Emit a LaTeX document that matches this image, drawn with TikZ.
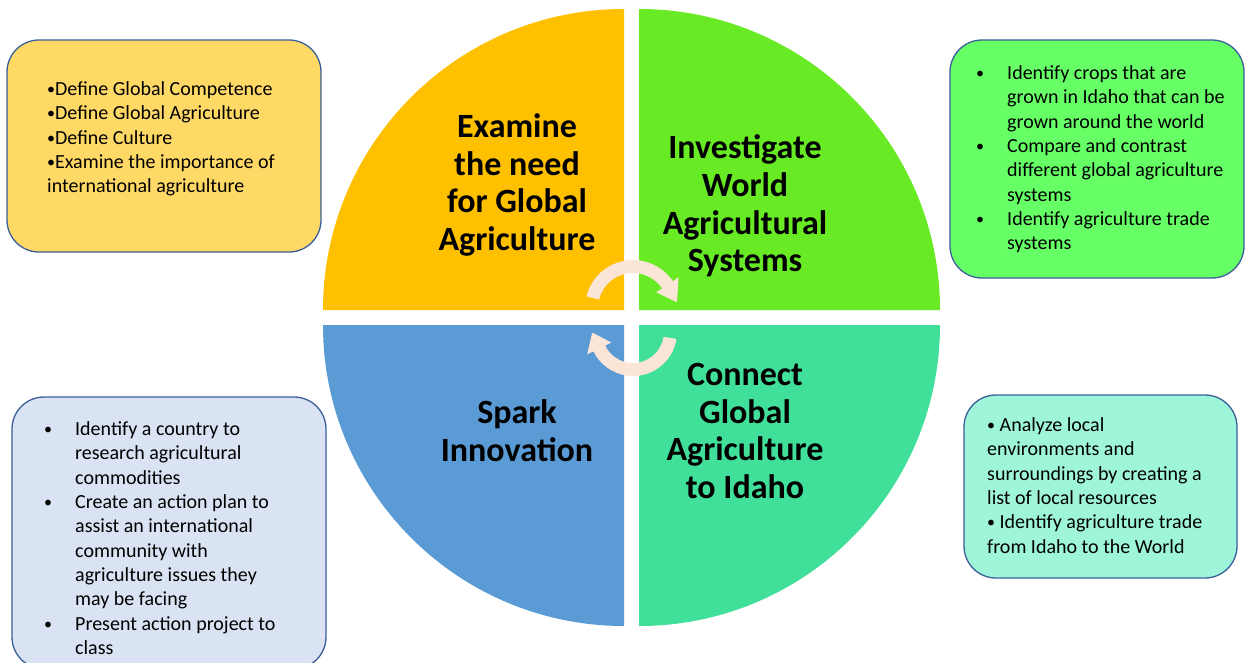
\documentclass[tikz,border=0pt]{standalone}
\usepackage{fontspec}
\setmainfont{Carlito}
\usetikzlibrary{calc}

\definecolor{quadYellow}{HTML}{FFC000}
\definecolor{quadGreen}{HTML}{68EB24}
\definecolor{quadTeal}{HTML}{41E09A}
\definecolor{quadBlue}{HTML}{5B9BD5}
\definecolor{boxYellow}{HTML}{FFD966}
\definecolor{boxGreen}{HTML}{66FF66}
\definecolor{boxBlue}{HTML}{DAE3F3}
\definecolor{boxAqua}{HTML}{9FF5D9}
\definecolor{boxLine}{HTML}{3A5F99}
\definecolor{cycleArrow}{HTML}{FBE5D6}

% small bullet, and the same bullet with a fixed hanging indent
\newcommand\smallbul{{\fontsize{16}{16}\selectfont\raisebox{1pt}{•}}}
\newcommand\itembul{\makebox[31pt][l]{\smallbul}}
\newcommand\itemgap{\hspace*{31pt}}

\begin{document}
\begin{tikzpicture}[x=1pt,y=-1pt,
  infobox/.style={draw=boxLine, line width=1.3pt, rounded corners=32pt,
    inner sep=0pt, rectangle},
  boxtext/.style={anchor=north west, inner sep=0pt, align=left,
    font=\fontsize{20}{24.3}\selectfont},
  title/.style={align=center, inner sep=0pt,
    font=\bfseries\fontsize{34}{37.7}\selectfont},
  arrowband/.style={fill=cycleArrow}]

\useasboundingbox (0,0) rectangle (1246,662);
\clip (0,0) rectangle (1246,662);
\fill[white] (0,0) rectangle (1246,662);

% four quarter discs
\fill[quadYellow] (624,310) -- (323,310) arc[start angle=180, end angle=270, radius=301] -- cycle;
\fill[quadGreen]  (639,310) -- (639,9)   arc[start angle=270, end angle=360, radius=301] -- cycle;
\fill[quadTeal]   (639,325) -- (940,325) arc[start angle=0,   end angle=90,  radius=301] -- cycle;
\fill[quadBlue]   (624,325) -- (624,626) arc[start angle=90,  end angle=180, radius=301] -- cycle;

% cycle arrows in the middle
\coordinate (cu) at (633,308);
\coordinate (cl) at (633,332);
\fill[arrowband] ($(cu)+(194:48)$) arc[start angle=194, end angle=326, radius=48]
  -- ($(cu)+(326:55)$) -- ($(cu)+(330:41.5)+(62:17)$) -- ($(cu)+(326:28)$)
  -- ($(cu)+(326:35)$) arc[start angle=326, end angle=194, radius=35] -- cycle;
\fill[arrowband] ($(cl)+(9:44)$) arc[start angle=9, end angle=154, radius=44]
  -- ($(cl)+(154:51)$) -- ($(cl)+(156:37.5)+(246:16)$) -- ($(cl)+(154:24)$)
  -- ($(cl)+(154:31)$) arc[start angle=154, end angle=9, radius=31] -- cycle;

% quadrant titles
\node[title] (examine) at (517,185) {Examine\\the need\\for Global\\Agriculture};
\node[title] (investigate) at (745,206) {Investigate\\World\\Agricultural\\Systems};
\node[title] (spark) at (517,431) {Spark\\Innovation};
\node[title] (connect) at (745,431) {Connect\\Global\\Agriculture\\to Idaho};

% side boxes
\node[infobox, fill=boxYellow, minimum width=314pt, minimum height=212pt] (boxExamine) at (164,146) {};
\node[infobox, fill=boxGreen, minimum width=294pt, minimum height=238pt] (boxInvestigate) at (1097,159) {};
\node[infobox, fill=boxBlue, minimum width=314pt, minimum height=272pt] (boxSpark) at (169,533) {};
\node[infobox, fill=boxAqua, minimum width=273pt, minimum height=183pt] (boxConnect) at (1100.5,486.5) {};

\node[boxtext] (txtExamine) at (47,81.5) {\smallbul Define Global Competence\\\smallbul Define Global Agriculture\\\smallbul Define Culture\\\smallbul Examine the importance of\\international agriculture};
\node[boxtext] (txtInvestigate) at (976,65.5) {\itembul Identify crops that are\\\itemgap grown in Idaho that can be\\\itemgap grown around the world\\\itembul Compare and contrast\\\itemgap different global agriculture\\\itemgap systems\\\itembul Identify agriculture trade\\\itemgap systems};
\node[boxtext] (txtSpark) at (44,421.5) {\itembul Identify a country to\\\itemgap research agricultural\\\itemgap commodities\\\itembul Create an action plan to\\\itemgap assist an international\\\itemgap community with\\\itemgap agriculture issues they\\\itemgap may be facing\\\itembul Present action project to\\\itemgap class};
\node[boxtext] (txtConnect) at (987,417.5) {\smallbul{} Analyze local\\environments and\\surroundings by creating a\\list of local resources\\\smallbul{} Identify agriculture trade\\from Idaho to the World};

\end{tikzpicture}
\end{document}
